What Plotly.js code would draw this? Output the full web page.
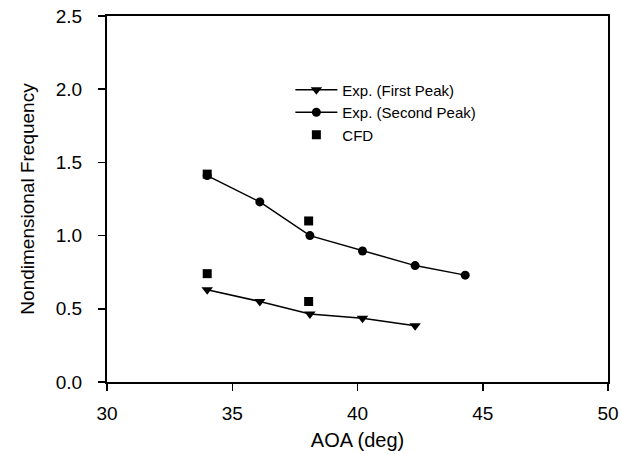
<!DOCTYPE html>
<html>
<head>
<meta charset="utf-8">
<script src="https://cdn.plot.ly/plotly-3.0.1.min.js"></script>
<style>html,body{margin:0;padding:0;background:#fff;}#chart{width:621px;height:454px;}</style>
</head>
<body>
<div id="chart"></div>
<script>
const firstAOA = [34.0, 36.1, 38.1, 40.2, 42.3];
const firstFreq = [0.63, 0.55, 0.465, 0.435, 0.385];
const secondAOA = [34.0, 36.1, 38.1, 40.2, 42.3, 44.3];
const secondFreq = [1.41, 1.23, 1.0, 0.895, 0.795, 0.73];
const cfdAOA = [34.0, 38.05, 34.0, 38.05];
const cfdFreq = [1.42, 1.10, 0.74, 0.55];
const xTicks = [30, 35, 40, 45, 50];
const yTicks = [0.0, 0.5, 1.0, 1.5, 2.0, 2.5];

const font = {family: 'Liberation Sans, Arial, sans-serif', color: '#000'};
const traces = [
  {x: firstAOA, y: firstFreq, name: 'Exp. (First Peak)', mode: 'lines+markers',
   line: {color: '#000', width: 1.5}, marker: {symbol: 'triangle-down', size: 10, color: '#000'}},
  {x: secondAOA, y: secondFreq, name: 'Exp. (Second Peak)', mode: 'lines+markers',
   line: {color: '#000', width: 1.5}, marker: {symbol: 'circle', size: 9, color: '#000'}},
  {x: cfdAOA, y: cfdFreq, name: 'CFD', mode: 'markers',
   marker: {symbol: 'square', size: 9, color: '#000'}}
];
const layout = {
  width: 621, height: 454,
  margin: {l: 107, r: 13, t: 16, b: 72},
  paper_bgcolor: '#fff', plot_bgcolor: '#fff',
  font: Object.assign({size: 15}, font),
  showlegend: true,
  legend: {x: 0.366, y: 0.843, xanchor: 'left', yanchor: 'top', bgcolor: 'rgba(0,0,0,0)',
           font: Object.assign({size: 15}, font), tracegroupgap: 0, itemwidth: 42},
  xaxis: {range: [30, 50], tickvals: xTicks, ticktext: xTicks.map(String),
          showgrid: false, zeroline: false, showline: true, linecolor: '#000', linewidth: 2,
          mirror: true, ticks: 'outside', ticklen: 7, tickwidth: 1.5, tickcolor: '#000',
          ticklabelstandoff: 6,
          tickfont: Object.assign({size: 19}, font),
          title: {text: 'AOA (deg)', font: Object.assign({size: 20}, font), standoff: 10}},
  yaxis: {range: [0, 2.5], tickvals: yTicks, ticktext: yTicks.map(v => v.toFixed(1)),
          showgrid: false, zeroline: false, showline: true, linecolor: '#000', linewidth: 2,
          mirror: true, ticks: 'outside', ticklen: 7, tickwidth: 1.5, tickcolor: '#000',
          ticklabelstandoff: 12,
          tickfont: Object.assign({size: 19}, font),
          title: {text: 'Nondimensional Frequency', font: Object.assign({size: 19}, font), standoff: 16}}
};
Plotly.newPlot('chart', traces, layout, {displayModeBar: false, staticPlot: true});
</script>
</body>
</html>
